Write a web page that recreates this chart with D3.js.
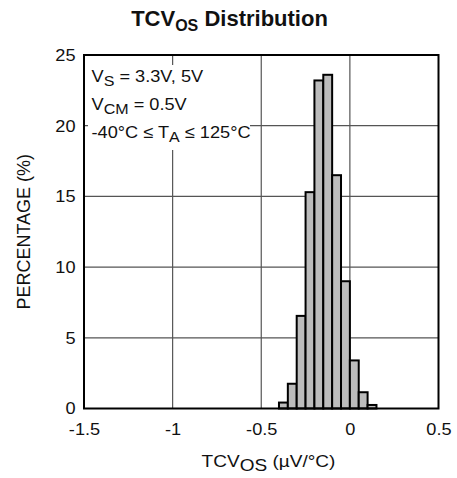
<!DOCTYPE html>
<meta charset="utf-8">
<script src="https://cdn.jsdelivr.net/npm/d3@7"></script>
<style>
  body { margin: 0; background: #fff; }
  text { font-family: "Liberation Sans", Arial, Helvetica, sans-serif; fill: #111; }
</style>
<div id="js_chart"></div>
<script>
// ******************************************
// data
// ******************************************
const binStart = [-0.40, -0.35, -0.30, -0.25, -0.20, -0.15, -0.10, -0.05, 0.00, 0.05, 0.10];
const binWidth = 0.05;
const percentage = [0.42, 1.75, 6.55, 15.3, 23.2, 23.6, 16.5, 9.0, 3.4, 1.15, 0.25];

const xTicks = [-1.5, -1, -0.5, 0, 0.5];
const xTickLabels = ["-1.5", "-1", "-0.5", "0", "0.5"];
const yTicks = [0, 5, 10, 15, 20, 25];
const yTickLabels = ["0", "5", "10", "15", "20", "25"];

// the scanned chart's lettering is a touch wider than Arial
const stretch = "scale(1.07,1)";

// ******************************************
function createPlot() {
    let width = 457,
        height = 478,
        margin = {top: 55, right: 18.5, bottom: 69.5, left: 84};

    let x = d3.scaleLinear()
        .domain([-1.5, 0.5])
        .range([margin.left, width - margin.right]);

    let y = d3.scaleLinear()
        .domain([0, 25])
        .range([height - margin.bottom, margin.top]);

    let svg = d3.select("#js_chart")
        .append("svg")
        .attr("width", width)
        .attr("height", height);

    // title
    let title = svg.append("text")
        .attr("x", 229.5)
        .attr("y", 26)
        .attr("text-anchor", "middle")
        .style("font-size", "22px")
        .style("font-weight", "bold");
    title.append("tspan").text("TCV");
    title.append("tspan").attr("dy", 5).style("font-size", "16px").text("OS");
    title.append("tspan").attr("dy", -5).text(" Distribution");

    // grid
    svg.append("g")
        .selectAll("line.v")
        .data(xTicks.slice(1, -1))
        .enter()
            .append("line")
            .attr("x1", d => x(d)).attr("x2", d => x(d))
            .attr("y1", y(25)).attr("y2", y(0))
            .attr("stroke", "#555")
            .attr("stroke-width", 1.2);

    svg.append("g")
        .selectAll("line.h")
        .data(yTicks.slice(1, -1))
        .enter()
            .append("line")
            .attr("x1", x(-1.5)).attr("x2", x(0.5))
            .attr("y1", d => y(d)).attr("y2", d => y(d))
            .attr("stroke", "#555")
            .attr("stroke-width", 1.2);

    // white box behind the conditions text
    svg.append("rect")
        .attr("x", 88).attr("y", 65)
        .attr("width", 162).attr("height", 85)
        .attr("fill", "#fff");

    // bars
    svg.append("g")
        .selectAll("rect")
        .data(percentage)
        .enter()
            .append("rect")
            .attr("x", (d, i) => x(binStart[i]))
            .attr("width", (d, i) => x(binStart[i] + binWidth) - x(binStart[i]))
            .attr("y", d => y(d))
            .attr("height", d => y(0) - y(d))
            .attr("fill", "#bcbcbc")
            .attr("stroke", "#000")
            .attr("stroke-width", 2);

    // frame
    svg.append("rect")
        .attr("x", x(-1.5)).attr("y", y(25))
        .attr("width", x(0.5) - x(-1.5))
        .attr("height", y(0) - y(25))
        .attr("fill", "none")
        .attr("stroke", "#000")
        .attr("stroke-width", 2);

    // axes (labels only, the frame and grid draw the lines)
    let xAxis = svg.append("g")
        .attr("transform", "translate(0," + y(0) + ")")
        .call(d3.axisBottom(x).tickValues(xTicks).tickSize(0).tickPadding(14.5)
            .tickFormat((d, i) => xTickLabels[i]));
    xAxis.select(".domain").remove();
    xAxis.selectAll("text").style("font-size", "17px").attr("fill", "#111")
        .attr("transform", stretch);

    let yAxis = svg.append("g")
        .attr("transform", "translate(" + x(-1.5) + ",0)")
        .call(d3.axisLeft(y).tickValues(yTicks).tickSize(0).tickPadding(8)
            .tickFormat((d, i) => yTickLabels[i]));
    yAxis.select(".domain").remove();
    yAxis.selectAll("text").style("font-size", "17px").attr("fill", "#111")
        .attr("x", -8.5 / 1.07)
        .attr("transform", stretch);
    xAxis.attr("font-family", null);
    yAxis.attr("font-family", null);

    // axis titles
    let xl = svg.append("text")
        .attr("transform", "translate(268.5,467) scale(1.12,1)")
        .attr("text-anchor", "middle")
        .style("font-size", "17px");
    xl.append("tspan").text("TCV");
    xl.append("tspan").attr("dy", 4).text("OS");
    xl.append("tspan").attr("dy", -4).text(" (\u00B5V/\u00B0C)");

    svg.append("text")
        .attr("transform", "translate(30," + (y(12.5)) + ") rotate(-90)")
        .attr("text-anchor", "middle")
        .style("font-size", "18px")
        .text("PERCENTAGE (%)");

    // conditions
    let notes = svg.append("g").attr("transform", "translate(91.5,0) " + stretch);
    let l1 = notes.append("text").attr("y", 82).style("font-size", "17px");
    l1.append("tspan").text("V");
    l1.append("tspan").attr("dy", 4).style("font-size", "15px").text("S");
    l1.append("tspan").attr("dy", -4).text(" = 3.3V, 5V");

    let l2 = notes.append("text").attr("y", 110).style("font-size", "17px");
    l2.append("tspan").text("V");
    l2.append("tspan").attr("dy", 4).style("font-size", "15px").text("CM");
    l2.append("tspan").attr("dy", -4).text(" = 0.5V");

    let l3 = notes.append("text").attr("y", 138).style("font-size", "17px");
    l3.append("tspan").text("-40\u00B0C \u2264 T");
    l3.append("tspan").attr("dy", 4).style("font-size", "15px").text("A");
    l3.append("tspan").attr("dy", -4).text(" \u2264 125\u00B0C");
}

createPlot();
</script>
